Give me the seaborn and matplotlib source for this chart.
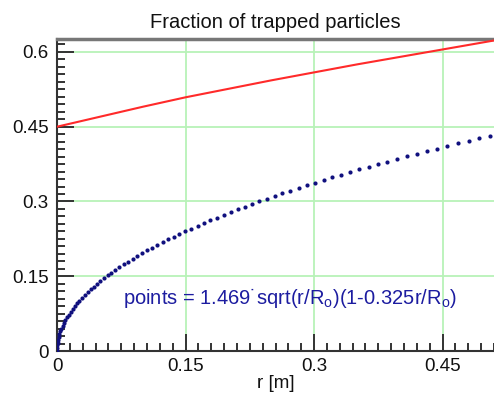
import matplotlib
matplotlib.use("Agg")
import matplotlib.pyplot as plt
import seaborn as sns
import pandas as pd
from matplotlib.ticker import MultipleLocator, FixedLocator

# ---- data ----
points_r = [0.0, 0.000081, 0.000324, 0.000729, 0.001296, 0.002025, 0.002916, 0.003969, 0.005184, 0.006561,
            0.0081, 0.009801, 0.011664, 0.013689, 0.015876, 0.018225, 0.020736, 0.023409, 0.026244, 0.029241,
            0.0324, 0.035721, 0.039204, 0.042849, 0.046656, 0.050625, 0.054756, 0.059049, 0.063504, 0.068121,
            0.0729, 0.077841, 0.082944, 0.088209, 0.093636, 0.099225, 0.104976, 0.110889, 0.116964, 0.123201,
            0.1296, 0.136161, 0.142884, 0.149769, 0.156816, 0.164025, 0.171396, 0.178929, 0.186624, 0.194481,
            0.2025, 0.210681, 0.219024, 0.227529, 0.236196, 0.245025, 0.254016, 0.263169, 0.272484, 0.281961,
            0.2916, 0.301401, 0.311364, 0.321489, 0.331776, 0.342225, 0.352836, 0.363609, 0.374544, 0.385641,
            0.3969, 0.408321, 0.419904, 0.431649, 0.443556, 0.455625, 0.467856, 0.480249, 0.492804, 0.505521]
points_f = [0.0, 0.00564, 0.01128, 0.01691, 0.02255, 0.02818, 0.03382, 0.03945, 0.04509, 0.05072,
            0.05635, 0.06198, 0.06760, 0.07323, 0.07886, 0.08447, 0.09009, 0.09571, 0.10132, 0.10693,
            0.11253, 0.11814, 0.12374, 0.12933, 0.13493, 0.14052, 0.14610, 0.15169, 0.15726, 0.16283,
            0.16840, 0.17397, 0.17952, 0.18507, 0.19062, 0.19616, 0.20169, 0.20722, 0.21275, 0.21827,
            0.22377, 0.22928, 0.23478, 0.24027, 0.24575, 0.25123, 0.25670, 0.26217, 0.26762, 0.27307,
            0.27851, 0.28394, 0.28937, 0.29477, 0.30018, 0.30558, 0.31097, 0.31634, 0.32172, 0.32708,
            0.33243, 0.33777, 0.34310, 0.34842, 0.35373, 0.35903, 0.36432, 0.36960, 0.37487, 0.38013,
            0.38537, 0.39061, 0.39584, 0.40104, 0.40625, 0.41143, 0.41661, 0.42178, 0.42693, 0.43206]

line_r = [0.0, 0.05, 0.10, 0.15, 0.20, 0.25, 0.30, 0.35, 0.40, 0.45, 0.50, 0.51]
line_f = [0.450, 0.470, 0.490, 0.509, 0.526, 0.543, 0.559, 0.575, 0.590, 0.605, 0.620, 0.623]

x_ticks = [0, 0.15, 0.3, 0.45]
x_labels = ["0", "0.15", "0.3", "0.45"]
y_ticks = [0, 0.15, 0.3, 0.45, 0.6]
y_labels = ["0", "0.15", "0.3", "0.45", "0.6"]

title = "Fraction of trapped particles"
xlabel = "r [m]"
annot = "points = 1.469\u02d9sqrt(r/R$_{\\mathrm{o}}$)(1-0.325r/R$_{\\mathrm{o}}$)"

# ---- style ----
sns.set_theme(style="white")
plt.rcParams["font.family"] = ["Liberation Sans", "DejaVu Sans"]
plt.rcParams["mathtext.fontset"] = "custom"
plt.rcParams["mathtext.rm"] = "Liberation Sans"
plt.rcParams["mathtext.it"] = "Liberation Sans:italic"
plt.rcParams["mathtext.bf"] = "Liberation Sans:bold"

W, H = 494, 398
fig = plt.figure(figsize=(W / 100, H / 100), dpi=100)
ax = fig.add_axes([57 / W, (H - 351) / H, (494 - 57) / W, (351 - 39) / H])

df_pts = pd.DataFrame({"r": points_r, "f": points_f})
df_line = pd.DataFrame({"r": line_r, "f": line_f})

sns.lineplot(data=df_line, x="r", y="f", ax=ax, color="#ff2a2a", linewidth=1.5, zorder=3)
sns.scatterplot(data=df_pts, x="r", y="f", ax=ax, color="#10107e", s=9, linewidth=0, zorder=4)

ax.set_xlim(0, 0.51)
ax.set_ylim(0, 0.626)

ax.xaxis.set_major_locator(FixedLocator(x_ticks))
ax.set_xticklabels(x_labels)
ax.yaxis.set_major_locator(FixedLocator(y_ticks))
ax.set_yticklabels(y_labels)
ax.xaxis.set_minor_locator(MultipleLocator(0.015))
ax.yaxis.set_minor_locator(MultipleLocator(0.015))

ax.grid(True, which="major", color="#b8f2b8", linewidth=1.3, zorder=0)
ax.set_axisbelow(True)

ax.tick_params(axis="both", which="both", direction="in", colors="#333333",
               labelcolor="#111111", labelsize=13.5, width=1.4)
ax.tick_params(axis="both", which="major", length=12)
ax.tick_params(axis="both", which="minor", length=6)
ax.tick_params(axis="x", which="both", bottom=True, top=False, pad=5)
ax.tick_params(axis="y", which="both", left=True, right=False, pad=6)

for s in ["left", "bottom"]:
    ax.spines[s].set_color("#333333")
    ax.spines[s].set_linewidth(1.5)
ax.spines["top"].set_color("#777777")
ax.spines["top"].set_linewidth(2.5)
ax.spines["right"].set_visible(False)

ax.set_title(title, fontsize=14.5, color="#111111", pad=8)
ax.set_xlabel(xlabel, fontsize=13.5, color="#111111", labelpad=0)
ax.set_ylabel("")

ax.text(0.077, 0.106, annot, fontsize=14.5, color="#1c1ca0", ha="left", va="center", zorder=5)

fig.savefig("out.png", dpi=100)
